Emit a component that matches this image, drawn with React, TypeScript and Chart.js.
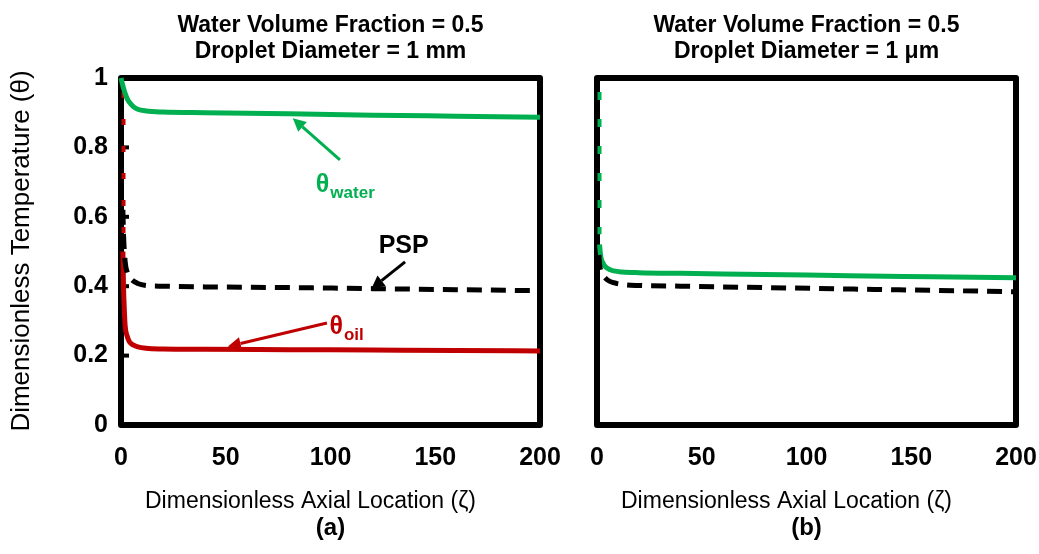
import React, { useEffect, useRef } from "react";
import { Chart, registerables } from "chart.js";

Chart.register(...registerables);

const FONT = "'Liberation Sans', Arial, Helvetica, sans-serif";
const GREEN = "#00B050";
const RED = "#C00000";
const BLACK = "#000000";

// ---------- data ----------
const yTickValues = [0, 0.2, 0.4, 0.6, 0.8, 1];
const xTickValues = [0, 50, 100, 150, 200];

// Panel (a): droplet diameter = 1 mm
const zetaWaterA = [0, 1, 2, 3, 4, 6, 8, 12, 20, 40, 80, 120, 160, 200];
const thetaWaterA = [1.0, 0.975, 0.955, 0.94, 0.93, 0.917, 0.91, 0.905, 0.902, 0.9, 0.897, 0.893, 0.89, 0.887];

const zetaOilA = [0.9, 1.2, 1.6, 2, 3, 4, 6, 8, 12, 20, 40, 80, 120, 160, 200];
const thetaOilA = [0.5, 0.4, 0.33, 0.285, 0.255, 0.24, 0.23, 0.225, 0.221, 0.219, 0.218, 0.217, 0.216, 0.215, 0.213];

const zetaPspA = [0.9, 1.2, 2, 3, 5, 8, 12, 20, 40, 80, 120, 160, 200];
const thetaPspA = [0.62, 0.55, 0.47, 0.44, 0.42, 0.408, 0.402, 0.4, 0.398, 0.396, 0.393, 0.39, 0.387];

const zetaOilStepA = [1.2, 1.2];
const thetaOilStepA = [0.96, 0.52];

// Panel (b): droplet diameter = 1 µm
const zetaWaterB = [1.2, 1.6, 2, 3, 4, 6, 8, 12, 20, 40, 80, 120, 160, 200];
const thetaWaterB = [0.52, 0.495, 0.48, 0.465, 0.456, 0.448, 0.444, 0.441, 0.439, 0.437, 0.434, 0.43, 0.427, 0.424];

const zetaPspB = [0.9, 1.2, 2, 3, 5, 8, 12, 20, 40, 80, 120, 160, 200];
const thetaPspB = [0.49, 0.465, 0.44, 0.43, 0.418, 0.41, 0.405, 0.402, 0.4, 0.396, 0.392, 0.388, 0.384];

const zetaWaterStepB = [1.2, 1.2];
const thetaWaterStepB = [0.96, 0.55];

const pts = (xs: number[], ys: number[]) => xs.map((x, i) => ({ x, y: ys[i] }));

// ---------- drawing helpers ----------
function arrow(ctx: CanvasRenderingContext2D, x1: number, y1: number, x2: number, y2: number, color: string) {
  const ang = Math.atan2(y2 - y1, x2 - x1);
  const head = 13;
  const half = 6.5;
  const bx = x2 - head * Math.cos(ang);
  const by = y2 - head * Math.sin(ang);
  ctx.save();
  ctx.strokeStyle = color;
  ctx.fillStyle = color;
  ctx.lineWidth = 3;
  ctx.beginPath();
  ctx.moveTo(x1, y1);
  ctx.lineTo(bx, by);
  ctx.stroke();
  ctx.beginPath();
  ctx.moveTo(x2, y2);
  ctx.lineTo(bx + half * Math.sin(ang), by - half * Math.cos(ang));
  ctx.lineTo(bx - half * Math.sin(ang), by + half * Math.cos(ang));
  ctx.closePath();
  ctx.fill();
  ctx.restore();
}

function subLabel(ctx: CanvasRenderingContext2D, x: number, y: number, main: string, sub: string, color: string) {
  ctx.save();
  ctx.fillStyle = color;
  ctx.textAlign = "left";
  ctx.textBaseline = "alphabetic";
  ctx.font = `bold 25px ${FONT}`;
  ctx.fillText(main, x, y);
  const w = ctx.measureText(main).width;
  ctx.font = `bold 17px ${FONT}`;
  ctx.fillText(sub, x + w + 1, y + 6);
  ctx.restore();
}

type PanelOpts = {
  titleLines: string[];
  panelLabel: string;
  yTitle: boolean;
  innerTicks: boolean;
  annotate: boolean;
};

function makePlugin(o: PanelOpts) {
  return {
    id: "panelDecor",
    beforeDatasetsDraw(chart: any) {
      const { ctx, chartArea: a } = chart;
      ctx.save();
      ctx.strokeStyle = BLACK;
      ctx.lineWidth = 6;
      ctx.lineJoin = "round";
      ctx.strokeRect(a.left, a.top, a.right - a.left, a.bottom - a.top);
      if (o.innerTicks) {
        const ys = chart.scales.y;
        ctx.lineWidth = 4;
        for (const v of yTickValues) {
          if (v === 0 || v === 1) continue;
          const py = ys.getPixelForValue(v);
          ctx.beginPath();
          ctx.moveTo(a.left, py);
          ctx.lineTo(a.left + 8, py);
          ctx.stroke();
        }
      }
      ctx.restore();
    },
    afterDraw(chart: any) {
      const { ctx, chartArea: a } = chart;
      const cx = (a.left + a.right) / 2;
      ctx.save();
      ctx.fillStyle = BLACK;
      ctx.textAlign = "center";
      ctx.textBaseline = "alphabetic";
      ctx.font = `bold 23px ${FONT}`;
      ctx.fillText(o.titleLines[0], cx, 32);
      ctx.fillText(o.titleLines[1], cx, 58);
      ctx.font = `23px ${FONT}`;
      ctx.fillText("Dimensionless Axial Location (\u03B6)", cx - 20, 508);
      ctx.font = `bold 24px ${FONT}`;
      ctx.fillText(o.panelLabel, cx, 535);
      if (o.yTitle) {
        ctx.save();
        ctx.translate(22, 251);
        ctx.rotate(-Math.PI / 2);
        ctx.textBaseline = "middle";
        ctx.font = `26px ${FONT}`;
        ctx.fillText("Dimensionless Temperature (\u03B8)", 0, 0);
        ctx.restore();
      }
      if (o.annotate) {
        const xs = chart.scales.x;
        const ys = chart.scales.y;
        const P = (x: number, y: number) => [xs.getPixelForValue(x), ys.getPixelForValue(y)];
        // theta water
        const [t1x, t1y] = P(104.5, 0.764);
        const [h1x, h1y] = P(82, 0.884);
        arrow(ctx, t1x, t1y, h1x, h1y, GREEN);
        const [lx, ly] = P(93, 0.672);
        subLabel(ctx, lx, ly, "\u03B8", "water", GREEN);
        // PSP
        ctx.font = `bold 25px ${FONT}`;
        ctx.fillStyle = BLACK;
        ctx.textAlign = "left";
        ctx.textBaseline = "alphabetic";
        const [px, py] = P(123, 0.495);
        ctx.fillText("PSP", px, py);
        const [t2x, t2y] = P(135.6, 0.47);
        const [h2x, h2y] = P(119.5, 0.393);
        arrow(ctx, t2x, t2y, h2x, h2y, BLACK);
        // theta oil
        const [ox, oy] = P(99.5, 0.262);
        subLabel(ctx, ox, oy, "\u03B8", "oil", RED);
        const [t3x, t3y] = P(98.3, 0.294);
        const [h3x, h3y] = P(51, 0.226);
        arrow(ctx, t3x, t3y, h3x, h3y, RED);
      }
      ctx.restore();
    },
  };
}

function lineDs(data: any[], color: string, extra: any = {}) {
  return {
    data,
    borderColor: color,
    backgroundColor: color,
    borderWidth: 5,
    pointRadius: 0,
    fill: false,
    cubicInterpolationMode: "monotone",
    clip: false,
    ...extra,
  };
}

function buildConfig(datasets: any[], padding: any, showY: boolean, yWidth: number, plugin: any) {
  return {
    type: "line",
    data: { datasets },
    options: {
      animation: false,
      responsive: false,
      maintainAspectRatio: false,
      layout: { padding },
      plugins: { legend: { display: false }, tooltip: { enabled: false }, title: { display: false } },
      scales: {
        x: {
          type: "linear",
          min: 0,
          max: 200,
          afterBuildTicks: (s: any) => {
            s.ticks = xTickValues.map((v) => ({ value: v }));
          },
          afterFit: (s: any) => {
            s.height = 129;
            s.paddingLeft = 0;
            s.paddingRight = 0;
          },
          grid: { display: false, drawTicks: false },
          border: { display: false },
          ticks: {
            color: BLACK,
            padding: 18,
            maxRotation: 0,
            autoSkip: false,
            font: { family: FONT, size: 25, weight: "bold" },
          },
        },
        y: {
          type: "linear",
          min: 0,
          max: 1,
          display: showY,
          afterBuildTicks: (s: any) => {
            s.ticks = yTickValues.map((v) => ({ value: v }));
          },
          afterFit: (s: any) => {
            s.width = yWidth;
            s.paddingTop = 0;
            s.paddingBottom = 0;
          },
          grid: { display: false, drawTicks: false },
          border: { display: false },
          ticks: {
            color: BLACK,
            padding: 13,
            autoSkip: false,
            callback: (v: any) => String(+Number(v).toFixed(2)),
            font: { family: FONT, size: 25, weight: "bold" },
          },
        },
      },
    },
    plugins: [plugin],
  } as any;
}

export default function App() {
  const leftRef = useRef<HTMLCanvasElement>(null);
  const rightRef = useRef<HTMLCanvasElement>(null);

  useEffect(() => {
    const left = new Chart(
      leftRef.current!,
      buildConfig(
        [
          lineDs(pts(zetaWaterA, thetaWaterA), GREEN),
          lineDs(pts(zetaPspA, thetaPspA), BLACK, { borderDash: [15, 9] }),
          lineDs(pts(zetaOilA, thetaOilA), RED),
          lineDs(pts(zetaOilStepA, thetaOilStepA), RED, { borderWidth: 4, borderDash: [6, 21], cubicInterpolationMode: "default", tension: 0 }),
        ],
        { left: 0, right: 28, top: 78, bottom: 0 },
        true,
        121,
        makePlugin({
          titleLines: ["Water Volume Fraction = 0.5", "Droplet Diameter = 1 mm"],
          panelLabel: "(a)",
          yTitle: true,
          innerTicks: true,
          annotate: true,
        })
      )
    );
    const right = new Chart(
      rightRef.current!,
      buildConfig(
        [
          lineDs(pts(zetaPspB, thetaPspB), BLACK, { borderDash: [15, 9] }),
          lineDs(pts(zetaWaterB, thetaWaterB), GREEN),
          lineDs(pts(zetaWaterStepB, thetaWaterStepB), GREEN, { borderWidth: 4, borderDash: [8, 19], cubicInterpolationMode: "default", tension: 0 }),
        ],
        { left: 0, right: 23, top: 78, bottom: 0 },
        false,
        29,
        makePlugin({
          titleLines: ["Water Volume Fraction = 0.5", "Droplet Diameter = 1 \u03BCm"],
          panelLabel: "(b)",
          yTitle: false,
          innerTicks: false,
          annotate: false,
        })
      )
    );
    return () => {
      left.destroy();
      right.destroy();
    };
  }, []);

  return (
    <div style={{ position: "fixed", left: 0, top: 0, width: 1039, height: 554, background: "#ffffff" }}>
      <canvas ref={leftRef} width={568} height={554} style={{ position: "absolute", left: 0, top: 0, width: 568, height: 554 }} />
      <canvas ref={rightRef} width={471} height={554} style={{ position: "absolute", left: 568, top: 0, width: 471, height: 554 }} />
    </div>
  );
}
